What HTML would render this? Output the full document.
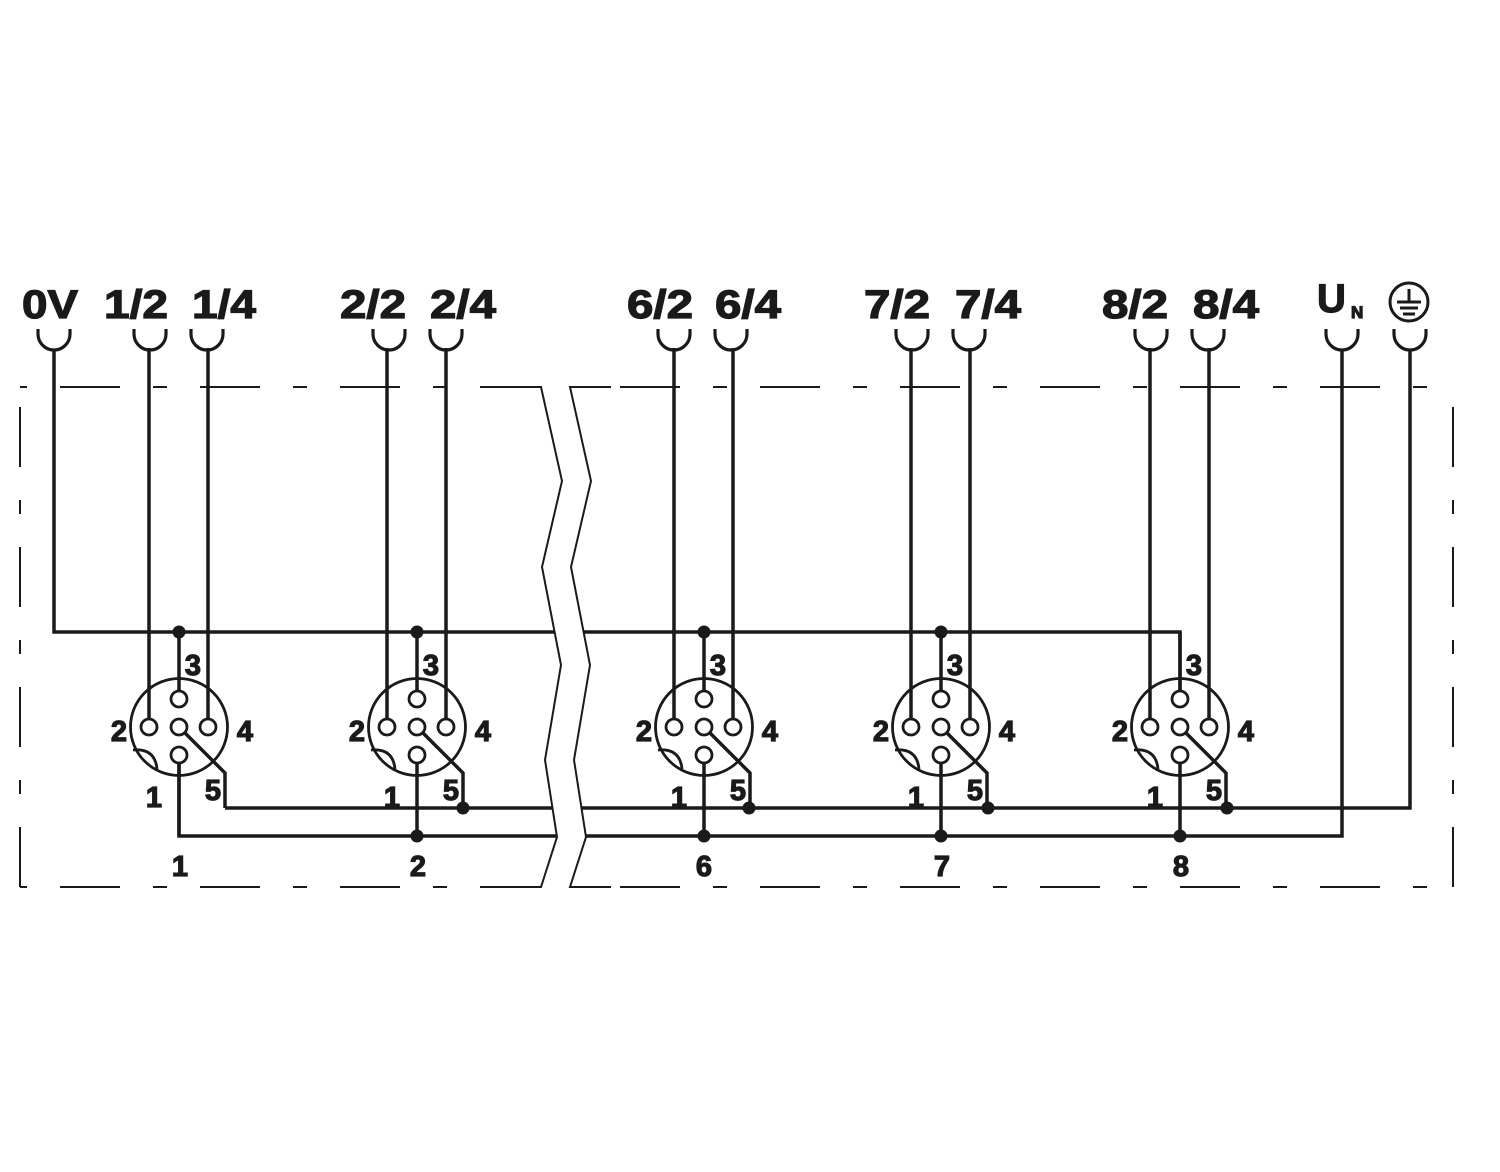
<!DOCTYPE html>
<html><head><meta charset="utf-8"><style>
html,body{margin:0;padding:0;background:#fff;}
svg{display:block;}
text{font-family:"Liberation Sans",Arial,sans-serif;font-weight:bold;fill:#1a1a1a;stroke:#1a1a1a;stroke-width:1.2;}
</style></head><body>
<svg width="1500" height="1172" viewBox="0 0 1500 1172" xmlns="http://www.w3.org/2000/svg">
<rect width="1500" height="1172" fill="#fff"/>
<g stroke="#1a1a1a" stroke-width="2" fill="none">
  <line x1="20" y1="387" x2="1453" y2="387" stroke-dasharray="60 33 14 33" stroke-dashoffset="100"/>
  <line x1="20" y1="887" x2="1453" y2="887" stroke-dasharray="60 33 14 33" stroke-dashoffset="100"/>
  <line x1="20" y1="387" x2="20" y2="887" stroke-dasharray="60 33 14 33" stroke-dashoffset="120"/>
  <line x1="1453" y1="387" x2="1453" y2="887" stroke-dasharray="60 33 14 33" stroke-dashoffset="120"/>
</g>
<g stroke="#1a1a1a" stroke-width="3.5" fill="none" stroke-linejoin="miter">
  <path d="M54 350 V632 H1180 V691"/>
  <path d="M179 763 V836 H1342 V350"/>
  <path d="M225 808 H1410 V350"/>
</g>
<g stroke="#1a1a1a" stroke-width="3.2" fill="none">
  <path id="cup" d="M38 329 Q38 331 38 334 A16 16 0 0 0 70 334 Q70 331 70 329"/>
  <use href="#cup" x="96"/>
  <use href="#cup" x="153"/>
  <use href="#cup" x="335"/>
  <use href="#cup" x="392"/>
  <use href="#cup" x="620"/>
  <use href="#cup" x="677"/>
  <use href="#cup" x="858"/>
  <use href="#cup" x="915"/>
  <use href="#cup" x="1097"/>
  <use href="#cup" x="1154"/>
  <use href="#cup" x="1288"/>
  <use href="#cup" x="1356"/>
</g>
<g stroke="#1a1a1a" fill="none">
  <g id="c1" transform="translate(179,0)">
    <path stroke-width="3.5" d="M0 691 V632 M-30 719 V348 M29 719 V348 M6 733 L46 773 V808 M0 763 V836"/>
    <circle cx="0" cy="727" r="48.5" stroke-width="2.8" fill="none"/>
    <g stroke-width="2.8" fill="#fff">
      <circle cx="0" cy="699" r="8"/><circle cx="-30" cy="727" r="8"/><circle cx="0" cy="727" r="8"/><circle cx="29" cy="727" r="8"/><circle cx="0" cy="755" r="8"/>
    </g>
    <path stroke-width="2.8" d="M-46 750 Q-24 748 -22 769"/>
  </g>
  <use href="#c1" transform="translate(238,0)"/>
  <use href="#c1" transform="translate(525,0)"/>
  <use href="#c1" transform="translate(762,0)"/>
  <use href="#c1" transform="translate(1001,0)"/>
</g>
<g fill="#1a1a1a">
  <circle cx="179" cy="632" r="6.5"/><circle cx="417" cy="632" r="6.5"/><circle cx="704" cy="632" r="6.5"/><circle cx="941" cy="632" r="6.5"/>
  <circle cx="463" cy="808" r="6.5"/><circle cx="749" cy="808" r="6.5"/><circle cx="988" cy="808" r="6.5"/><circle cx="1227" cy="808" r="6.5"/>
  <circle cx="417" cy="836" r="6.5"/><circle cx="704" cy="836" r="6.5"/><circle cx="941" cy="836" r="6.5"/><circle cx="1180" cy="836" r="6.5"/>
</g>
<polygon points="541,387 562,481 542,567 561,665 545,760 557,837 541,887 570,887 586,837 574,760 590,665 571,567 591,481 570,387" fill="#fff"/>
<g stroke="#1a1a1a" stroke-width="2" fill="none">
  <polyline points="500,387 541,387 562,481 542,567 561,665 545,760 557,837 541,887 500,887"/>
  <polyline points="611,387 570,387 591,481 571,567 590,665 574,760 586,837 570,887 611,887"/>
</g>
<g stroke="#1a1a1a" stroke-width="3" fill="none">
  <circle cx="1409" cy="302" r="19"/>
  <path d="M1409 289 V302 M1397 302 H1421 M1400 308 H1418 M1403 314 H1415"/>
</g>
<g font-size="40">
  <text x="22" y="318" textLength="56" lengthAdjust="spacingAndGlyphs">0V</text>
  <text x="104" y="318" textLength="64" lengthAdjust="spacingAndGlyphs">1/2</text>
  <text x="192" y="318" textLength="64" lengthAdjust="spacingAndGlyphs">1/4</text>
  <text x="340" y="318" textLength="66" lengthAdjust="spacingAndGlyphs">2/2</text>
  <text x="430" y="318" textLength="66" lengthAdjust="spacingAndGlyphs">2/4</text>
  <text x="627" y="318" textLength="66" lengthAdjust="spacingAndGlyphs">6/2</text>
  <text x="715" y="318" textLength="66" lengthAdjust="spacingAndGlyphs">6/4</text>
  <text x="864" y="318" textLength="66" lengthAdjust="spacingAndGlyphs">7/2</text>
  <text x="955" y="318" textLength="66" lengthAdjust="spacingAndGlyphs">7/4</text>
  <text x="1102" y="318" textLength="66" lengthAdjust="spacingAndGlyphs">8/2</text>
  <text x="1193" y="318" textLength="66" lengthAdjust="spacingAndGlyphs">8/4</text>
  <text x="1317" y="312">U</text>
</g>
<text x="1351" y="318" font-size="17">N</text>
<g font-size="29" text-anchor="middle">
  <g id="lab">
    <text x="193" y="675">3</text>
    <text x="119" y="741">2</text>
    <text x="245" y="741">4</text>
    <text x="154" y="807">1</text>
    <text x="213" y="800">5</text>
  </g>
  <use href="#lab" transform="translate(238,0)"/>
  <use href="#lab" transform="translate(525,0)"/>
  <use href="#lab" transform="translate(762,0)"/>
  <use href="#lab" transform="translate(1001,0)"/>
  <text x="180" y="876">1</text>
  <text x="418" y="876">2</text>
  <text x="704" y="876">6</text>
  <text x="942" y="876">7</text>
  <text x="1181" y="876">8</text>
</g>
</svg>
</body></html>
